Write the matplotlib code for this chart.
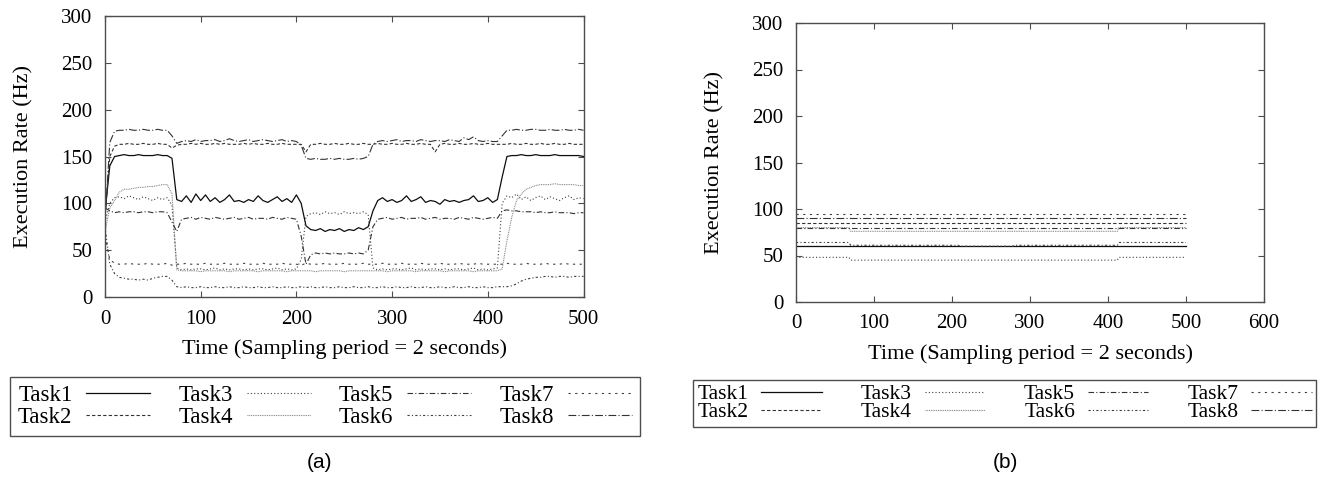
import matplotlib
matplotlib.use("Agg")
import matplotlib.pyplot as plt

# ---------------- data: panel (a) ----------------
TIME_A = list(range(0, 501, 5))  # sampling index (2 s period)

TASK1_A = [90, 140, 150, 151, 152, 151, 151, 152, 151, 151, 151, 152, 151, 151, 148,
           104, 102, 108, 101, 110, 103, 109, 102, 106, 101, 104, 109, 102, 103, 101, 104, 102, 108, 103, 101, 104, 107, 102, 105, 101, 109, 100,
           76, 72, 71, 73, 70, 72, 71, 73, 70, 72, 71, 74, 72, 75,
           92, 103, 106, 102, 104, 101, 103, 108, 102, 104, 107, 101, 103, 102, 99, 104, 102, 103, 101, 103, 104, 108, 102, 103, 106, 101, 104,
           128, 150, 151, 151, 152, 151, 151, 152, 151, 151, 151, 152, 151, 151, 151, 151, 151, 150]
TASK2_A = [85, 150, 161, 163, 163, 164, 163, 163, 164, 163, 163, 164, 163, 163, 159,
           162, 163, 163, 164, 163, 164, 163, 163, 164, 163, 164, 163, 163, 163, 164, 163, 164, 163, 163, 164, 163, 163, 164, 163, 163, 163, 163,
           155, 163, 163, 164, 163, 163, 164, 163, 163, 164, 163, 163, 164, 163,
           163, 164, 163, 163, 164, 163, 163, 164, 163, 163, 164, 163, 163, 155, 163, 164, 163, 163, 164, 163, 163, 164, 163, 163, 164, 163, 163,
           163, 163, 164, 163, 163, 164, 163, 163, 164, 163, 163, 164, 163, 163, 164, 163, 163, 163]
TASK3_A = [80, 100, 106, 107, 105, 108, 106, 104, 107, 105, 103, 106, 104, 106, 98,
           31, 29, 30, 29, 30, 30, 29, 30, 31, 29, 30, 29, 30, 30, 29, 30, 29, 30, 30, 29, 30, 31, 29, 30, 29, 30, 40,
           86, 89, 90, 88, 91, 89, 90, 88, 91, 89, 90, 89, 91, 88,
           31, 29, 30, 29, 30, 30, 29, 30, 31, 29, 30, 29, 30, 30, 29, 30, 29, 30, 30, 29, 30, 31, 29, 30, 29, 30, 31,
           100, 108, 106, 110, 104, 107, 103, 106, 108, 104, 107, 105, 103, 106, 108, 104, 106, 105]
TASK4_A = [70, 95, 103, 112, 115, 115, 116, 117, 117, 118, 118, 119, 120, 120, 110,
           29, 28, 28, 28, 28, 27, 28, 28, 28, 28, 28, 27, 28, 28, 28, 28, 28, 27, 28, 28, 28, 28, 28, 27, 28, 28, 28,
           28, 28, 27, 28, 28, 28, 28, 28, 27, 28, 28, 28, 28, 28,
           28, 28, 28, 27, 28, 28, 28, 28, 28, 27, 28, 28, 28, 28, 28, 27, 28, 28, 28, 28, 28, 27, 28, 28, 28, 28, 28,
           30, 60, 85, 103, 110, 115, 117, 119, 120, 120, 120, 121, 120, 120, 120, 120, 119, 119]
TASK5_A = [95, 92, 90, 91, 90, 91, 91, 90, 91, 91, 90, 91, 91, 90, 80,
           70, 83, 84, 85, 83, 85, 84, 83, 85, 84, 83, 84, 85, 83, 84, 85, 83, 84, 84, 83, 85, 84, 83, 85, 84, 83, 65,
           35, 45, 47, 46, 47, 46, 47, 46, 46, 47, 46, 47, 46, 50,
           75, 83, 84, 85, 83, 84, 85, 83, 84, 84, 85, 83, 84, 85, 83, 84, 84, 83, 85, 84, 83, 85, 84, 83, 84, 85, 84,
           92, 93, 92, 92, 91, 91, 91, 90, 91, 90, 90, 91, 90, 90, 90, 89, 90, 90]
TASK6_A = [75, 35, 25, 21, 20, 19, 19, 18, 19, 18, 20, 21, 22, 22, 18,
           11, 10, 11, 10, 10, 11, 10, 10, 11, 10, 10, 11, 10, 10, 11, 10, 10, 11, 10, 10, 11, 10, 10, 11, 10, 10, 11,
           10, 11, 10, 10, 11, 10, 10, 11, 10, 10, 11, 10, 10, 11,
           10, 10, 11, 10, 10, 11, 10, 10, 11, 10, 10, 11, 10, 10, 11, 10, 10, 11, 10, 10, 11, 10, 10, 11, 10, 10, 11,
           11, 11, 12, 14, 17, 19, 20, 21, 21, 22, 22, 21, 22, 22, 21, 22, 22, 22]
TASK7_A = [65, 40, 36, 35, 35, 36, 35, 35, 35, 36, 35, 35, 35, 36, 34,
           35, 35, 36, 35, 35, 35, 36, 35, 35, 35, 36, 35, 35, 35, 36, 35, 35, 35, 36, 35, 35, 35, 36, 35, 35, 35, 34,
           36, 35, 35, 35, 36, 35, 35, 35, 36, 35, 35, 35, 36, 35,
           35, 35, 36, 35, 35, 35, 36, 35, 35, 35, 36, 35, 35, 35, 36, 35, 35, 35, 36, 35, 35, 35, 36, 35, 35, 35, 35,
           35, 36, 35, 35, 35, 36, 35, 35, 35, 36, 35, 35, 35, 36, 35, 35, 35, 35]
TASK8_A = [80, 165, 177, 178, 178, 179, 178, 178, 179, 178, 178, 179, 178, 178, 172,
           164, 166, 167, 166, 168, 166, 167, 167, 168, 166, 167, 169, 167, 166, 167, 168, 166, 167, 168, 167, 166, 167, 168, 166, 167, 166, 162,
           148, 147, 148, 147, 147, 148, 147, 148, 147, 147, 148, 147, 148, 150,
           163, 166, 167, 166, 167, 168, 166, 167, 167, 166, 168, 167, 166, 167, 167, 166, 168, 167, 166, 170, 168, 171, 167, 166, 167, 166, 166,
           172, 178, 178, 179, 178, 178, 179, 179, 178, 178, 179, 178, 178, 179, 178, 178, 179, 178]

# ---------------- data: panel (b) (vertices of piecewise-flat traces) ----------------
TASK1_B_T, TASK1_B = [0, 500], [60, 60]
TASK2_B_T, TASK2_B = [0, 500], [85, 85]
TASK3_B_T, TASK3_B = [0, 68, 70, 412, 414, 500], [48, 48, 45, 45, 48, 48]
TASK4_B_T, TASK4_B = [0, 68, 70, 412, 414, 500], [80, 80, 76, 76, 80, 80]
TASK5_B_T, TASK5_B = [0, 500], [80, 80]
TASK6_B_T, TASK6_B = [0, 68, 70, 208, 210, 278, 280, 412, 414, 500], [64, 64, 61, 61, 60, 60, 61, 61, 64, 64]
TASK7_B_T, TASK7_B = [0, 500], [95, 95]
TASK8_B_T, TASK8_B = [0, 500], [90, 90]

LABELS = ["Task1", "Task2", "Task3", "Task4", "Task5", "Task6", "Task7", "Task8"]
Y_TICKS = [0, 50, 100, 150, 200, 250, 300]
X_TICKS_A = [0, 100, 200, 300, 400, 500]
X_TICKS_B = [0, 100, 200, 300, 400, 500, 600]

STYLES = [
    dict(ls="-", color="0.05", lw=0.9),
    dict(ls=(0, (3, 2)), color="0.2", lw=0.8),
    dict(ls=(0, (1, 2)), color="0.25", lw=0.8),
    dict(ls=(0, (0.8, 0.8)), color="0.5", lw=0.8),
    dict(ls=(0, (5, 2, 1, 2)), color="0.2", lw=0.8),
    dict(ls=(0, (2, 2, 1, 2)), color="0.25", lw=0.8),
    dict(ls=(0, (2, 4)), color="0.25", lw=0.8),
    dict(ls=(0, (7, 2, 1, 2)), color="0.2", lw=0.8),
]

SERIF = ["Liberation Serif", "DejaVu Serif"]
plt.rcParams["font.family"] = SERIF
plt.rcParams["font.size"] = 15

W, H = 1318, 482
fig = plt.figure(figsize=(W / 100, H / 100), dpi=100)


def px_axes(left, top, right, bottom):
    return fig.add_axes([left / W, 1 - bottom / H, (right - left) / W, (bottom - top) / H])


def style_axes(ax, xticks, xlim):
    ax.set_xlim(*xlim)
    ax.set_ylim(0, 300)
    ax.set_xticks(xticks)
    ax.set_yticks(Y_TICKS)
    ax.tick_params(direction="in", length=4, width=0.8, top=True, right=True,
                   labelsize=15, pad=9, color="0.3")
    for s in ax.spines.values():
        s.set_linewidth(1.0)
        s.set_color("0.3")
    ax.set_xlabel("Time (Sampling period = 2 seconds)", fontsize=16, labelpad=8)
    ax.set_ylabel("Execution Rate (Hz)", fontsize=16, labelpad=20)


# panel (a)
axa = px_axes(105, 16, 583.5, 297)
series_a = [TASK1_A, TASK2_A, TASK3_A, TASK4_A, TASK5_A, TASK6_A, TASK7_A, TASK8_A]
for lab, ys, st in zip(LABELS, series_a, STYLES):
    axa.plot(TIME_A, ys, label=lab, **st)
style_axes(axa, X_TICKS_A, (0, 500))

# panel (b)
axb = px_axes(796, 23, 1264, 302)
series_b = [(TASK1_B_T, TASK1_B), (TASK2_B_T, TASK2_B), (TASK3_B_T, TASK3_B), (TASK4_B_T, TASK4_B),
            (TASK5_B_T, TASK5_B), (TASK6_B_T, TASK6_B), (TASK7_B_T, TASK7_B), (TASK8_B_T, TASK8_B)]
for lab, (ts, ys), st in zip(LABELS, series_b, STYLES):
    axb.plot(ts, ys, label=lab, **st)
style_axes(axb, X_TICKS_B, (0, 600))


def add_legend(ax, left, top, right, fs, spacing, bpad):
    h, l = ax.get_legend_handles_labels()
    leg = fig.legend(h, l, ncol=4, loc="upper left",
                     bbox_to_anchor=(left / W, 1 - top / H, (right - left) / W, 0.0),
                     mode="expand", markerfirst=False, frameon=True, fancybox=False,
                     edgecolor="0.3", framealpha=1, fontsize=fs, handlelength=2.8,
                     handletextpad=0.6, columnspacing=1.0, labelspacing=spacing,
                     borderpad=bpad, borderaxespad=0.0)
    leg.get_frame().set_linewidth(1.0)
    return leg


add_legend(axa, 10, 377, 640, 16.5, 0.02, 0.35)
add_legend(axb, 693, 380, 1316, 15.5, -0.1, 0.2)

fig.text(320 / W, 1 - 463 / H, "(a)", ha="center", va="center", fontsize=15,
         family=["Liberation Sans", "DejaVu Sans"])
fig.text(1005 / W, 1 - 463 / H, "(b)", ha="center", va="center", fontsize=15,
         family=["Liberation Sans", "DejaVu Sans"])

fig.savefig("out.png", dpi=100)
